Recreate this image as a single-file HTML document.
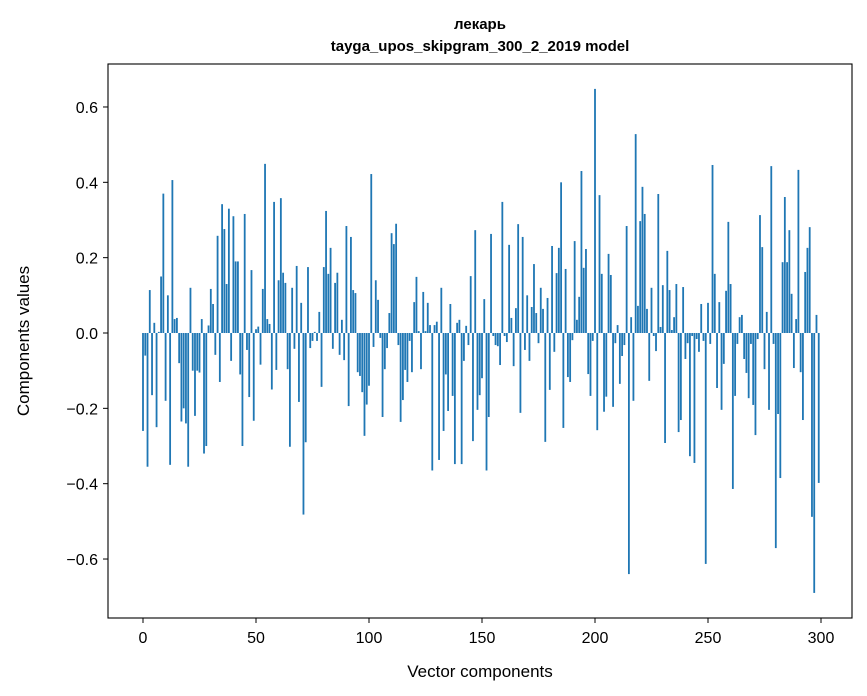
<!DOCTYPE html>
<html><head><meta charset="utf-8"><style>
body{margin:0;background:#fff;}
svg{display:block;font-family:"Liberation Sans","DejaVu Sans",sans-serif;}
</style></head><body>
<svg id="chart" width="867" height="696" viewBox="0 0 867 696" xmlns="http://www.w3.org/2000/svg">
<rect width="867" height="696" fill="#fff"/>
<text x="480" y="29" text-anchor="middle" font-size="15" font-weight="bold">лекарь</text>
<text x="480" y="51" text-anchor="middle" font-size="15" font-weight="bold">tayga_upos_skipgram_300_2_2019 model</text>
<g id="bars"></g>
<g id="axes"></g>
<rect x="108" y="64" width="744" height="554" fill="none" stroke="#000" stroke-width="1.1"/>
<text x="480" y="677" text-anchor="middle" font-size="17">Vector components</text>
<text transform="translate(29,341) rotate(-90)" text-anchor="middle" font-size="17">Components values</text>
</svg>
<script>
const values = [
-0.26,-0.06,-0.355,0.114,-0.165,0.027,-0.25,0.003,0.15,0.37,
-0.18,0.10,-0.35,0.406,0.037,0.04,-0.08,-0.235,-0.2,-0.24,
-0.355,0.12,-0.1,-0.22,-0.1,-0.105,0.037,-0.32,-0.3,0.02,
0.117,0.077,-0.058,0.258,-0.13,0.342,0.276,0.13,0.33,-0.074,
0.31,0.19,0.19,-0.11,-0.3,0.316,-0.045,-0.17,0.167,-0.233,
0.01,0.017,-0.084,0.117,0.449,0.037,0.024,-0.15,0.348,-0.098,
0.14,0.358,0.16,0.133,-0.096,-0.302,0.12,-0.042,0.178,-0.183,
0.08,-0.482,-0.29,0.175,-0.04,-0.021,0.003,-0.021,0.056,-0.143,
0.175,0.324,0.157,0.226,-0.042,0.133,0.16,-0.058,0.035,-0.072,
0.284,-0.194,0.255,0.114,0.106,-0.104,-0.114,-0.157,-0.273,-0.19,
-0.14,0.422,-0.037,0.14,0.088,-0.013,-0.223,-0.096,-0.04,0.053,
0.265,0.236,0.29,-0.032,-0.236,-0.178,-0.098,-0.13,-0.021,-0.104,
0.082,0.149,0.005,-0.096,0.109,0.005,0.08,0.021,-0.365,0.021,
0.03,-0.337,0.12,-0.26,-0.11,-0.207,0.077,-0.167,-0.348,0.027,
0.035,-0.348,-0.074,0.019,-0.032,0.151,-0.287,0.273,-0.204,-0.165,
-0.12,0.09,-0.365,-0.223,0.263,-0.008,-0.032,-0.035,-0.085,0.348,
-0.008,-0.024,0.234,0.04,-0.088,0.066,0.289,-0.212,0.255,-0.045,
0.1,-0.074,0.069,0.183,0.053,-0.027,0.12,0.064,-0.289,0.093,
-0.151,0.231,-0.05,0.159,0.226,0.4,-0.252,0.17,-0.117,-0.13,
-0.019,0.244,0.035,0.096,0.43,0.173,0.223,-0.109,-0.167,-0.021,
0.648,-0.258,0.366,0.157,-0.209,-0.169,0.21,0.154,-0.196,-0.027,
0.021,-0.135,-0.061,-0.032,0.284,-0.64,0.042,-0.18,0.528,0.072,
0.297,0.388,0.316,0.064,-0.127,0.12,-0.008,-0.048,0.369,0.016,
0.127,-0.292,0.218,0.114,0.008,0.042,0.13,-0.263,-0.231,0.122,
-0.069,-0.027,-0.327,-0.008,-0.345,-0.016,-0.05,0.077,-0.021,-0.613,
0.08,-0.029,0.446,0.157,-0.146,0.082,-0.204,-0.082,0.112,0.295,
0.13,-0.414,-0.167,-0.029,0.042,0.048,-0.069,-0.106,-0.173,-0.029,
-0.191,-0.271,-0.016,0.313,0.228,-0.096,0.056,-0.204,0.443,-0.029,
-0.571,-0.215,-0.385,0.188,0.361,0.188,0.273,0.104,-0.093,0.037,
0.433,-0.104,-0.231,0.162,0.226,0.281,-0.488,-0.69,0.048,-0.398
];
const xTicks = [0,50,100,150,200,250,300];
const yTicks = [-0.6,-0.4,-0.2,0.0,0.2,0.4,0.6];
const yTickLabels = ["\u22120.6","\u22120.4","\u22120.2","0.0","0.2","0.4","0.6"];

const NS = "http://www.w3.org/2000/svg";
const X0 = 143, XS = 2.26, Y0 = 333, YS = 376.7;
function xScale(i){ return X0 + i*XS; }
function yScale(v){ return Y0 - v*YS; }

const barsG = document.getElementById('bars');
values.forEach((v,i)=>{
  const r = document.createElementNS(NS,'rect');
  
  
  const w = 0.8*XS;
  r.setAttribute('x', xScale(i) - w/2);
  const y1 = yScale(Math.max(v,0)), y2 = yScale(Math.min(v,0));
  r.setAttribute('y', y1);
  r.setAttribute('width', w);
  r.setAttribute('height', Math.max(y2-y1,0.01));
  r.setAttribute('fill', '#1f77b4');
  barsG.appendChild(r);
});

const axesG = document.getElementById('axes');
xTicks.forEach(t=>{
  const x = xScale(t);
  const l = document.createElementNS(NS,'line');
  
  
  l.setAttribute('x1',x); l.setAttribute('x2',x);
  l.setAttribute('y1',618); l.setAttribute('y2',623);
  l.setAttribute('stroke','#000');
  axesG.appendChild(l);
  const tx = document.createElementNS(NS,'text');
  
  
  tx.setAttribute('x',x); tx.setAttribute('y',643);
  tx.setAttribute('text-anchor','middle');
  tx.setAttribute('font-size','16');
  tx.textContent = String(t);
  axesG.appendChild(tx);
});
yTicks.forEach((t,k)=>{
  const y = yScale(t);
  const l = document.createElementNS(NS,'line');
  
  
  l.setAttribute('x1',103); l.setAttribute('x2',108);
  l.setAttribute('y1',y); l.setAttribute('y2',y);
  l.setAttribute('stroke','#000');
  axesG.appendChild(l);
  const tx = document.createElementNS(NS,'text');
  
  
  tx.setAttribute('x',98); tx.setAttribute('y',y+6);
  tx.setAttribute('text-anchor','end');
  tx.setAttribute('font-size','16');
  tx.textContent = yTickLabels[k];
  axesG.appendChild(tx);
});
</script>
</body></html>
